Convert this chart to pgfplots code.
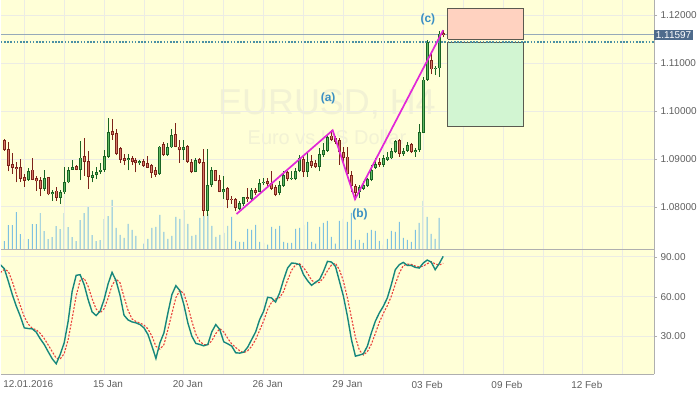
\documentclass[border=0pt]{standalone}
\usepackage{fontspec}
\setmainfont{Liberation Sans}
\usepackage{pgfplots}
\usepackage{pgfplotstable}
\pgfplotsset{compat=1.18}

\definecolor{bgyellow}{RGB}{255,255,215}
\definecolor{gridc}{RGB}{236,236,228}
\definecolor{bordergray}{RGB}{175,175,175}
\definecolor{ticktext}{RGB}{95,95,95}
\definecolor{rdark}{RGB}{125,35,25}
\definecolor{rfill}{RGB}{215,120,105}
\definecolor{gdark}{RGB}{25,100,35}
\definecolor{gfill}{RGB}{95,185,100}
\definecolor{volblue}{RGB}{125,192,225}
\definecolor{wave}{RGB}{225,40,215}
\definecolor{lblblue}{RGB}{58,143,196}
\definecolor{oscteal}{RGB}{22,135,124}
\definecolor{oscred}{RGB}{232,64,58}
\definecolor{priceline}{RGB}{150,170,185}
\definecolor{dotline}{RGB}{74,144,164}
\definecolor{labelbg}{RGB}{78,107,140}
\definecolor{redbox}{RGB}{255,210,192}
\definecolor{greenbox}{RGB}{210,245,210}
\definecolor{boxedge}{RGB}{90,90,80}
\definecolor{wmark}{RGB}{242,242,212}

% bullish candles: k open high low close
\pgfplotstableread{
k O H L C
6 1.0856 1.0881 1.0854 1.0875
10 1.0838 1.0878 1.0834 1.0860
12 1.0826 1.0835 1.0813 1.0831
14 1.0819 1.0835 1.0806 1.0831
15 1.0830 1.0884 1.0827 1.0852
16 1.0851 1.0884 1.0849 1.0877
17 1.0877 1.0898 1.0877 1.0883
19 1.0878 1.0938 1.0856 1.0903
22 1.0861 1.0874 1.0851 1.0867
23 1.0866 1.0883 1.0858 1.0873
24 1.0872 1.0891 1.0869 1.0878
25 1.0877 1.0919 1.0873 1.0906
26 1.0905 1.0985 1.0903 1.0956
31 1.0898 1.0910 1.0876 1.0901
34 1.0891 1.0898 1.0888 1.0896
39 1.0868 1.0928 1.0867 1.0926
41 1.0908 1.0934 1.0906 1.0924
42 1.0924 1.0962 1.0923 1.0950
45 1.0918 1.0940 1.0898 1.0924
48 1.0872 1.0901 1.0872 1.0898
51 1.0792 1.0921 1.0781 1.0845
52 1.0845 1.0884 1.0841 1.0877
55 1.0830 1.0865 1.0816 1.0838
59 1.0795 1.0813 1.0794 1.0807
60 1.0806 1.0821 1.0801 1.0820
62 1.0817 1.0839 1.0815 1.0835
64 1.0832 1.0858 1.0831 1.0849
65 1.0849 1.0860 1.0846 1.0851
69 1.0829 1.0853 1.0824 1.0846
70 1.0844 1.0875 1.0842 1.0867
72 1.0858 1.0874 1.0857 1.0861
73 1.0858 1.0881 1.0856 1.0875
74 1.0875 1.0908 1.0872 1.0901
76 1.0872 1.0912 1.0863 1.0893
79 1.0884 1.0922 1.0874 1.0910
80 1.0908 1.0933 1.0905 1.0919
81 1.0917 1.0950 1.0915 1.0946
89 1.0831 1.0846 1.0818 1.0842
90 1.0838 1.0853 1.0835 1.0846
91 1.0844 1.0861 1.0842 1.0858
92 1.0856 1.0888 1.0853 1.0877
93 1.0881 1.0901 1.0879 1.0890
95 1.0888 1.0908 1.0884 1.0901
96 1.0898 1.0915 1.0896 1.0905
97 1.0901 1.0922 1.0899 1.0917
98 1.0914 1.0940 1.0912 1.0938
100 1.0910 1.0922 1.0907 1.0917
101 1.0917 1.0935 1.0915 1.0929
103 1.0914 1.0922 1.0905 1.0919
104 1.0919 1.0974 1.0915 1.0956
105 1.0955 1.1072 1.0954 1.1066
106 1.1065 1.1148 1.1063 1.1144
108 1.1088 1.1094 1.1075 1.1091
109 1.1089 1.1167 1.1072 1.1162
}\bull

% bearish candles: k open high low close
\pgfplotstableread{
k O H L C
0 1.0940 1.0941 1.0917 1.0919
1 1.0920 1.0935 1.0874 1.0886
2 1.0890 1.0912 1.0869 1.0881
3 1.0883 1.0894 1.0851 1.0880
4 1.0883 1.0899 1.0852 1.0859
5 1.0863 1.0869 1.0842 1.0855
7 1.0878 1.0901 1.0856 1.0857
8 1.0860 1.0865 1.0834 1.0853
9 1.0856 1.0862 1.0822 1.0838
11 1.0862 1.0863 1.0824 1.0826
13 1.0834 1.0841 1.0813 1.0819
18 1.0885 1.0888 1.0876 1.0877
20 1.0906 1.0944 1.0865 1.0894
21 1.0895 1.0917 1.0837 1.0862
27 1.0958 1.0983 1.0940 1.0951
28 1.0954 1.0962 1.0908 1.0910
29 1.0923 1.0926 1.0892 1.0898
30 1.0902 1.0910 1.0888 1.0896
32 1.0902 1.0906 1.0887 1.0894
33 1.0898 1.0903 1.0872 1.0891
35 1.0896 1.0899 1.0884 1.0886
36 1.0892 1.0906 1.0881 1.0882
37 1.0887 1.0890 1.0861 1.0871
38 1.0876 1.0884 1.0863 1.0867
40 1.0931 1.0935 1.0906 1.0908
43 1.0952 1.0976 1.0924 1.0926
44 1.0926 1.0939 1.0892 1.0918
46 1.0927 1.0929 1.0892 1.0894
47 1.0894 1.0899 1.0870 1.0872
49 1.0899 1.0903 1.0890 1.0891
50 1.0894 1.0920 1.0780 1.0792
53 1.0877 1.0878 1.0853 1.0854
54 1.0856 1.0867 1.0830 1.0831
56 1.0839 1.0842 1.0797 1.0815
57 1.0816 1.0822 1.0806 1.0814
58 1.0816 1.0818 1.0792 1.0797
61 1.0821 1.0840 1.0810 1.0817
63 1.0835 1.0839 1.0825 1.0829
66 1.0853 1.0860 1.0840 1.0847
67 1.0849 1.0875 1.0835 1.0838
68 1.0842 1.0846 1.0822 1.0825
71 1.0872 1.0874 1.0853 1.0858
75 1.0899 1.0908 1.0863 1.0872
77 1.0896 1.0908 1.0882 1.0886
78 1.0892 1.0898 1.0881 1.0883
82 1.0949 1.0960 1.0938 1.0940
83 1.0944 1.0949 1.0931 1.0936
84 1.0940 1.0944 1.0888 1.0914
85 1.0915 1.0926 1.0888 1.0903
86 1.0905 1.0926 1.0865 1.0868
87 1.0867 1.0874 1.0831 1.0844
88 1.0844 1.0847 1.0815 1.0829
94 1.0893 1.0901 1.0884 1.0888
99 1.0940 1.0942 1.0905 1.0910
102 1.0931 1.0933 1.0912 1.0914
107 1.1106 1.1120 1.1077 1.1087
110 1.1163 1.1170 1.1154 1.1160
}\bear

% tick volume
\pgfplotstableread{
k v
0 870
1 2470
2 2470
3 3770
4 1570
5 1070
6 1070
7 2570
8 2570
9 3670
10 1870
11 1070
12 1270
13 2370
14 2070
15 3670
16 2270
17 1270
18 870
19 2970
20 3670
21 4370
22 1470
23 870
24 970
25 3070
26 3370
27 5000
28 2200
29 1500
30 1200
31 2600
32 2000
33 1400
34 0
35 600
36 1100
37 2200
38 2300
39 3500
40 1800
41 1100
42 1400
43 3300
44 3100
45 4000
46 2600
47 1400
48 1500
49 3200
50 3400
51 3600
52 2400
53 1300
54 1500
55 1700
56 2400
57 3300
58 900
59 800
60 800
61 2100
62 2000
63 2500
64 800
65 700
66 500
67 2300
68 2100
69 2400
70 800
71 700
72 700
73 2100
74 2200
75 2500
76 2800
77 800
78 600
79 2300
80 2700
81 2900
82 1300
83 600
84 2900
85 3100
86 2800
87 3700
88 1000
89 1000
90 700
91 1700
92 2000
93 1900
94 900
95 500
96 1100
97 1900
98 1800
99 2800
100 1200
101 1000
102 800
103 2000
104 2700
105 4900
106 3300
107 1600
108 1100
109 3200
}\vol

% oscillator: main line t, signal line r
\pgfplotstableread{
k t r
-1 84 78
0 81 80.5
1 71.5 79
2 61.5 71.3
3 52.75 61.9
4 45.25 53.2
5 36.5 44.8
6 36 39.3
7 35.75 36.1
8 33.25 35
9 28.25 32.4
10 24 28.5
11 18.5 23.6
12 13.25 18.6
13 9.5 13.75
14 16.5 13.1
15 25.25 17.1
16 41.5 27.75
17 64 43.6
18 76 60.5
19 76.5 72.2
20 69 73.8
21 57.75 67.75
22 48.5 58.4
23 45.75 50.7
24 49 47.75
25 57.75 50.8
26 69.5 58.75
27 78.25 68.5
28 72 73.25
29 61 70.4
30 46 59.7
31 42.5 49.8
32 41 43.2
33 40.25 41.25
34 39 40.1
35 36.5 38.6
36 31.5 35.7
37 22.75 30.25
38 13.5 22.6
39 25.25 20.5
40 32.75 23.8
41 47.75 35.25
42 61.5 47.3
43 68.25 59.2
44 64.5 64.75
45 54 62.25
46 40.25 52.9
47 30.25 41.5
48 24.75 31.75
49 24 26.3
50 23 23.9
51 24 23.7
52 33.5 26.8
53 39 32.2
54 35.25 35.9
55 26 33.4
56 24.5 28.6
57 22.75 24.4
58 17.75 21.7
59 17.5 19.3
60 18.25 17.8
61 22 19.25
62 27.75 22.7
63 33.5 27.75
64 42.75 34.7
65 49 41.75
66 59.5 50.4
67 59 55.8
68 56 58.2
69 62.75 59.25
70 72.75 63.8
71 81.5 72.3
72 85.25 79.8
73 85 83.9
74 84 84.75
75 76.5 81.8
76 72 77.5
77 68.5 72.3
78 70.75 70.4
79 72.75 70.7
80 79 74.2
81 86.5 79.4
82 86 83.8
83 82.75 85.1
84 71.5 80.1
85 60.25 71.5
86 45.25 59
87 27.75 44.4
88 15.25 29.4
89 16 19.7
90 17 16.1
91 22.75 18.6
92 32.75 24.2
93 41.5 32.3
94 47.75 40.7
95 52.75 47.3
96 59 53.2
97 69 60.25
98 80.25 69.4
99 84 77.75
100 85.75 83.3
101 83.5 84.4
102 83.5 84.25
103 82 83
104 81.5 82.3
105 85.25 82.9
106 87.5 84.75
107 86 86.25
108 80.25 84.6
109 84.75 83.7
110 90.25 85.1
}\osc

\pgfplotsset{
  every axis/.append style={font=\fontsize{10}{12}\selectfont},
  wick/.style={draw=none, mark=none, forget plot,
    error bars/.cd, y dir=plus, y explicit, error mark=none,
    error bar style={draw=#1, line width=1pt, line cap=butt}},
  bodyout/.style={draw=none, mark=none, forget plot,
    error bars/.cd, y dir=plus, y explicit, error mark=none,
    error bar style={draw=#1, line width=3pt, line cap=butt}},
  bodyin/.style={draw=none, mark=none, forget plot,
    error bars/.cd, y dir=plus, y explicit, error mark=none,
    error bar style={draw=#1, line width=1pt, line cap=butt, shorten <=0.9pt, shorten >=0.9pt}},
}

\begin{document}
\begin{tikzpicture}
\fill[white] (0pt,0pt) rectangle (700pt,394pt);

% panel background and watermark
\begin{axis}[name=bgax, at={(0pt,144pt)}, anchor=south west, scale only axis,
  width=655pt, height=250pt,
  xmin=0, xmax=1, ymin=0, ymax=1,
  axis line style={draw=none}, xtick=\empty, ytick=\empty,
  axis background/.style={fill=bgyellow}, clip=true]
  \node[text=wmark, font=\fontsize{36}{40}\selectfont] at (rel axis cs:0.4992,0.584) {EURUSD, H4};
  \node[text=wmark, font=\fontsize{20}{24}\selectfont] at (rel axis cs:0.4992,0.452) {Euro vs US Dollar};
\end{axis}

% volume layer
\begin{axis}[name=volax, at={(0pt,144pt)}, anchor=south west, scale only axis,
  width=655pt, height=250pt,
  xmin=-0.875, xmax=162.875, ymin=0, ymax=25000,
  axis line style={draw=none}, xtick=\empty, ytick=\empty, clip=true]
  \addplot[ybar, bar width=1pt, bar shift=0pt, fill=volblue, draw=none, mark=none] table[x=k, y=v] {\vol};
\end{axis}

% price panel
\begin{axis}[name=priceax, at={(0pt,144pt)}, anchor=south west, scale only axis,
  width=655pt, height=250pt,
  xmin=-0.875, xmax=162.875, ymin=1.071042, ymax=1.123125,
  axis x line*=bottom, axis y line*=right,
  axis line style={draw=bordergray, line width=0.8pt},
  xtick={5,15,...,155}, xticklabels={}, xtick style={draw=none},
  ytick={1.08,1.09,1.10,1.11,1.12}, scaled y ticks=false,
  ytick style={draw=bordergray}, tick align=outside, major tick length=3pt,
  yticklabel style={text=ticktext, /pgf/number format/.cd, fixed, fixed zerofill, precision=5, assume math mode=true},
  grid=major, grid style={draw=gridc, line width=0.8pt},
  clip=false]

  % current price line
  \addplot[priceline, line width=0.8pt, mark=none] coordinates {(-0.875,1.11597) (162.875,1.11597)};

  % candles
  \addplot[wick=gdark] table[x=k, y=L, y error plus expr=\thisrow{H}-\thisrow{L}] {\bull};
  \addplot[wick=rdark] table[x=k, y=L, y error plus expr=\thisrow{H}-\thisrow{L}] {\bear};
  \addplot[bodyout=gdark] table[x=k, y=O, y error plus expr=\thisrow{C}-\thisrow{O}] {\bull};
  \addplot[bodyout=rdark] table[x=k, y=C, y error plus expr=\thisrow{O}-\thisrow{C}] {\bear};
  \addplot[bodyin=gfill] table[x=k, y=O, y error plus expr=\thisrow{C}-\thisrow{O}] {\bull};
  \addplot[bodyin=rfill] table[x=k, y=C, y error plus expr=\thisrow{O}-\thisrow{C}] {\bear};

  % wave lines
  \addplot[wave, line width=1.7pt, mark=none] coordinates {(58.2,1.0785) (82.3,1.0960) (87.9,1.0816) (110,1.1169)};

  % target boxes
  \addplot[fill=redbox, draw=boxedge, line width=0.8pt, mark=none] coordinates {(111.1,1.1150) (130.1,1.1150) (130.1,1.1214) (111.1,1.1214) (111.1,1.1150)};
  \addplot[fill=greenbox, draw=boxedge, line width=0.8pt, mark=none] coordinates {(111.1,1.09673) (130.1,1.09673) (130.1,1.11444) (111.1,1.11444) (111.1,1.09673)};

  % dotted level
  \addplot[dotline, line width=1.6pt, dash pattern=on 1.6pt off 1.6pt, mark=none] coordinates {(-0.875,1.11448) (162.875,1.11448)};

  % wave labels
  \node[text=lblblue, font=\bfseries\fontsize{12}{14}\selectfont] at (axis cs:81.17,1.10271) {(a)};
  \node[text=lblblue, font=\bfseries\fontsize{12}{14}\selectfont] at (axis cs:89.17,1.07833) {(b)};
  \node[text=lblblue, font=\bfseries\fontsize{12}{14}\selectfont] at (axis cs:106.17,1.11917) {(c)};

  % current price tag
  \node[anchor=west, fill=labelbg, text=white, inner sep=1.6pt, font=\fontsize{10}{12}\selectfont] at (axis cs:162.875,1.11597) {1.11597};
\end{axis}

% oscillator panel
\begin{axis}[name=oscax, at={(0pt,19pt)}, anchor=south west, scale only axis,
  width=655pt, height=125pt,
  xmin=-0.875, xmax=162.875, ymin=1.5, ymax=95.25,
  axis x line*=bottom, axis y line*=right,
  axis line style={draw=bordergray, line width=0.8pt},
  axis background/.style={fill=bgyellow},
  xtick={5,15,...,155},
  xticklabels={12.01.2016,,15 Jan,,20 Jan,,26 Jan,,29 Jan,,03 Feb,,09 Feb,,12 Feb,},
  xtick style={draw=none},
  xticklabel style={text=ticktext, xshift=4pt},
  ytick={30,60,90},
  ytick style={draw=bordergray}, tick align=outside, major tick length=3pt,
  yticklabel style={text=ticktext, /pgf/number format/.cd, fixed, fixed zerofill, precision=2, assume math mode=true},
  grid=major, grid style={draw=gridc, line width=0.8pt},
  clip=true]
  \addplot[oscred, line width=1.1pt, dash pattern=on 2pt off 1.5pt, mark=none] table[x=k, y=r] {\osc};
  \addplot[oscteal, line width=1.4pt, mark=none] table[x=k, y=t] {\osc};
\end{axis}
\end{tikzpicture}
\end{document}
